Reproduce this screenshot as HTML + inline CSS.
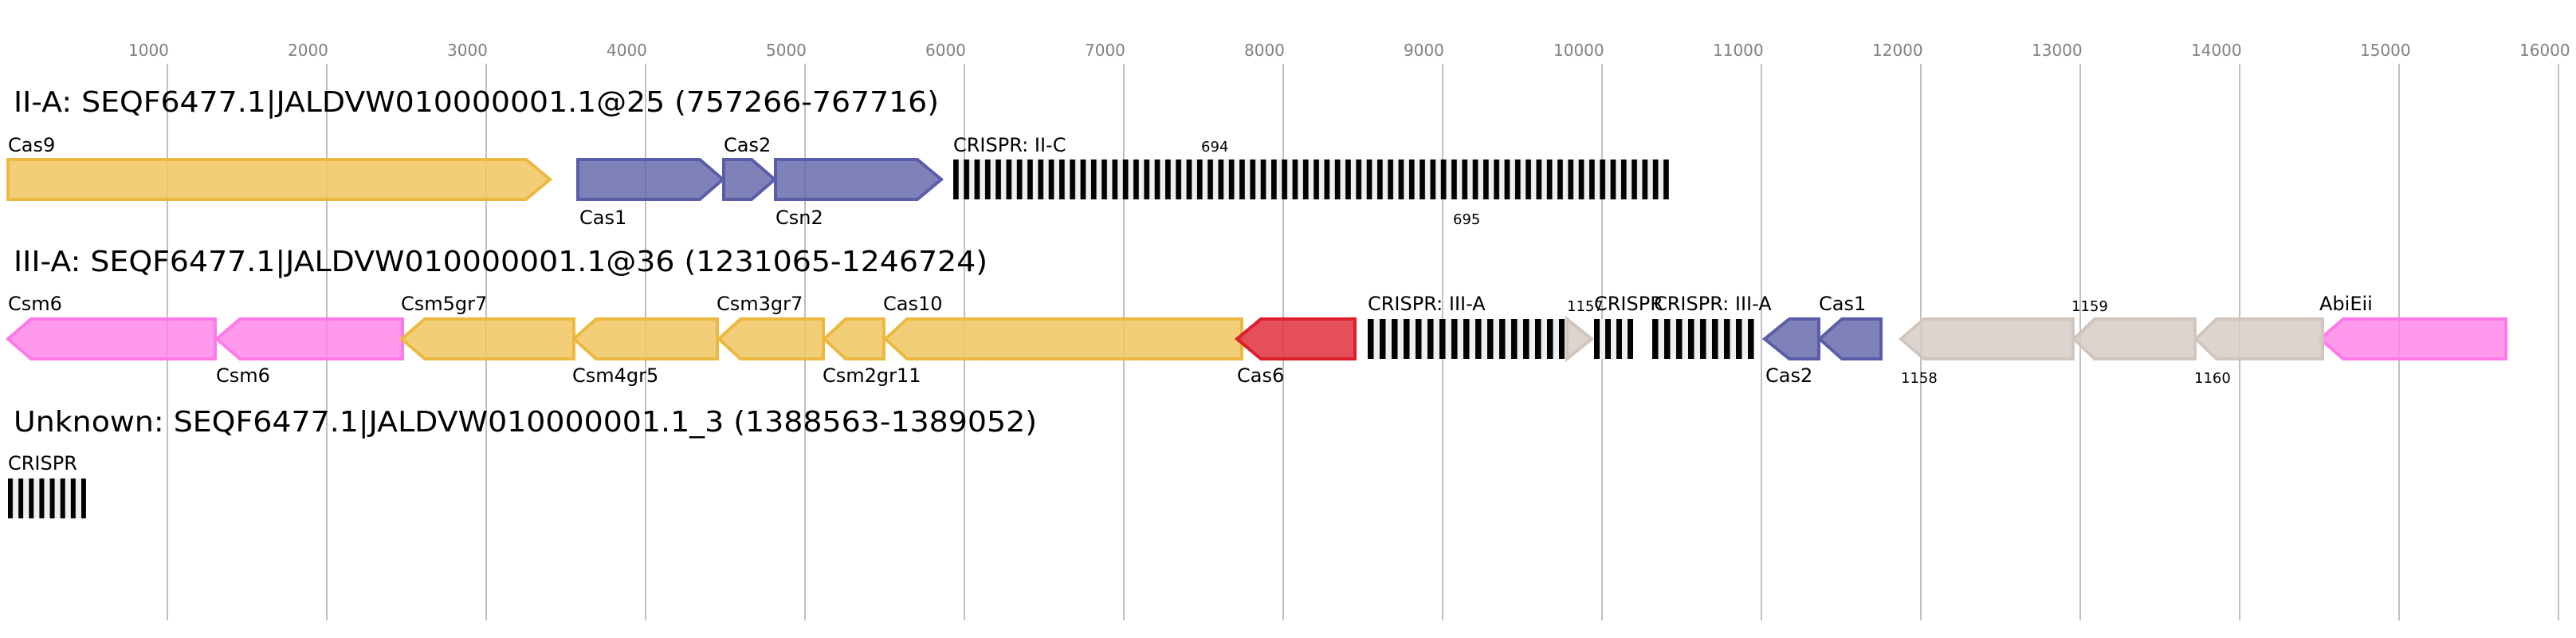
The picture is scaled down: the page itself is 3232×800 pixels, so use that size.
<!DOCTYPE html>
<html><head><meta charset="utf-8"><style>html,body{margin:0;padding:0;background:#fff}svg{display:block}</style></head>
<body>
<svg xmlns="http://www.w3.org/2000/svg" width="3232" height="800" viewBox="0 0 3232 800" font-family="'DejaVu Sans','Liberation Sans',sans-serif">
<defs>
<pattern id="p1" patternUnits="userSpaceOnUse" x="1196" y="0" width="13.3" height="800"><rect width="13.3" height="800" fill="#efefef"/><rect width="6.7" height="800" fill="#000"/></pattern>
<pattern id="p2" patternUnits="userSpaceOnUse" x="1716" y="0" width="15" height="800"><rect width="15" height="800" fill="#efefef"/><rect width="7.5" height="800" fill="#000"/></pattern>
<pattern id="p3" patternUnits="userSpaceOnUse" x="2000" y="0" width="14" height="800"><rect width="14" height="800" fill="#efefef"/><rect width="7" height="800" fill="#000"/></pattern>
<pattern id="p4" patternUnits="userSpaceOnUse" x="2073" y="0" width="15" height="800"><rect width="15" height="800" fill="#efefef"/><rect width="7.5" height="800" fill="#000"/></pattern>
<pattern id="p5" patternUnits="userSpaceOnUse" x="10" y="0" width="13.14" height="800"><rect width="13.14" height="800" fill="#efefef"/><rect width="6" height="800" fill="#000"/></pattern>
</defs>
<g fill="#808080" font-size="20">
<text x="161" y="70">1000</text><text x="361" y="70">2000</text><text x="561" y="70">3000</text><text x="761" y="70">4000</text><text x="961" y="70">5000</text><text x="1161" y="70">6000</text><text x="1361" y="70">7000</text><text x="1561" y="70">8000</text><text x="1761" y="70">9000</text><text x="1949" y="70">10000</text><text x="2149" y="70">11000</text><text x="2349" y="70">12000</text><text x="2549" y="70">13000</text><text x="2749" y="70">14000</text><text x="2961" y="70">15000</text><text x="3161" y="70">16000</text>
</g>
<g stroke="#c0c0c0" stroke-width="2">
<line x1="210" y1="80" x2="210" y2="778"/><line x1="410" y1="80" x2="410" y2="778"/><line x1="610" y1="80" x2="610" y2="778"/><line x1="810" y1="80" x2="810" y2="778"/><line x1="1010" y1="80" x2="1010" y2="778"/><line x1="1210" y1="80" x2="1210" y2="778"/><line x1="1410" y1="80" x2="1410" y2="778"/><line x1="1610" y1="80" x2="1610" y2="778"/><line x1="1810" y1="80" x2="1810" y2="778"/><line x1="2010" y1="80" x2="2010" y2="778"/><line x1="2210" y1="80" x2="2210" y2="778"/><line x1="2410" y1="80" x2="2410" y2="778"/><line x1="2610" y1="80" x2="2610" y2="778"/><line x1="2810" y1="80" x2="2810" y2="778"/><line x1="3010" y1="80" x2="3010" y2="778"/><line x1="3210" y1="80" x2="3210" y2="778"/>
</g>
<g font-size="36" fill="#000">
<text x="17" y="140" textLength="1161" lengthAdjust="spacingAndGlyphs">II-A: SEQF6477.1|JALDVW010000001.1@25 (757266-767716)</text>
<text x="17" y="340" textLength="1222" lengthAdjust="spacingAndGlyphs">III-A: SEQF6477.1|JALDVW010000001.1@36 (1231065-1246724)</text>
<text x="17" y="541" textLength="1284" lengthAdjust="spacingAndGlyphs">Unknown: SEQF6477.1|JALDVW010000001.1_3 (1388563-1389052)</text>
</g>
<g stroke-width="4" stroke-linejoin="miter">
<path d="M10,200 H660 L690,225 L660,250 H10 Z" fill="#f1c660" fill-opacity="0.85" stroke="#ecb940"/>
<g fill="#5f62a8" fill-opacity="0.8" stroke="#5a5ea8">
<path d="M725,200 H878 L907,225 L878,250 H725 Z"/>
<path d="M908,200 H943 L972,225 L943,250 H908 Z"/>
<path d="M973,200 H1151 L1181,225 L1151,250 H973 Z"/>
<path d="M2245,400 H2282 V450 H2245 L2214,425 Z"/>
<path d="M2311,400 H2360 V450 H2311 L2283,425 Z"/>
</g>
<g fill="#fe7fe6" fill-opacity="0.8" stroke="#ff7ae8">
<path d="M39,400 H270 V450 H39 L10,425 Z"/>
<path d="M301,400 H505 V450 H301 L272,425 Z"/>
<path d="M2940,400 H3144 V450 H2940 L2911,425 Z"/>
</g>
<g fill="#f1c660" fill-opacity="0.85" stroke="#ecb940">
<path d="M533,400 H720 V450 H533 L504,425 Z"/>
<path d="M748,400 H900 V450 H748 L720,425 Z"/>
<path d="M929,400 H1033 V450 H929 L902,425 Z"/>
<path d="M1061,400 H1109 V450 H1061 L1034,425 Z"/>
<path d="M1138,400 H1558 V450 H1138 L1111,425 Z"/>
</g>
<path d="M1582,400 H1700 V450 H1582 L1552,425 Z" fill="#e0303e" fill-opacity="0.85" stroke="#dd1e2b"/>
<g fill="#d6cdc7" fill-opacity="0.85" stroke="#d1c6bd">
<path d="M1966,400 L1997,425 L1966,450 Z"/>
<path d="M2414,400 H2601 V450 H2414 L2385,425 Z"/>
<path d="M2628,400 H2754 V450 H2628 L2602,425 Z"/>
<path d="M2781,400 H2914 V450 H2781 L2755,425 Z"/>
</g>
</g>
<rect x="1196" y="200" width="898" height="50" fill="url(#p1)"/>
<rect x="1716" y="400" width="247" height="50" fill="url(#p2)"/>
<rect x="2000" y="400" width="49" height="50" fill="url(#p3)"/>
<rect x="2073" y="400" width="128" height="50" fill="url(#p4)"/>
<rect x="10" y="600" width="98" height="50" fill="url(#p5)"/>
<g font-size="24" fill="#000">
<text x="10" y="190">Cas9</text>
<text x="727" y="281">Cas1</text>
<text x="908" y="190">Cas2</text>
<text x="973" y="281">Csn2</text>
<text x="1196" y="190">CRISPR: II-C</text>
<text x="10" y="389">Csm6</text>
<text x="271" y="479">Csm6</text>
<text x="503" y="389">Csm5gr7</text>
<text x="718" y="479">Csm4gr5</text>
<text x="899" y="389">Csm3gr7</text>
<text x="1032" y="479">Csm2gr11</text>
<text x="1108" y="389">Cas10</text>
<text x="1552" y="479">Cas6</text>
<text x="1716" y="389">CRISPR: III-A</text>
<text x="2000" y="389">CRISPR</text>
<text x="2075" y="389">CRISPR: III-A</text>
<text x="2215" y="479">Cas2</text>
<text x="2282" y="389">Cas1</text>
<text x="2910" y="389">AbiEii</text>
<text x="10" y="589">CRISPR</text>
</g>
<g font-size="18" fill="#000">
<text x="1507" y="190">694</text>
<text x="1823" y="281">695</text>
<text x="1966" y="390">1157</text>
<text x="2385" y="480">1158</text>
<text x="2599" y="390">1159</text>
<text x="2753" y="480">1160</text>
</g>
</svg>
</body></html>
